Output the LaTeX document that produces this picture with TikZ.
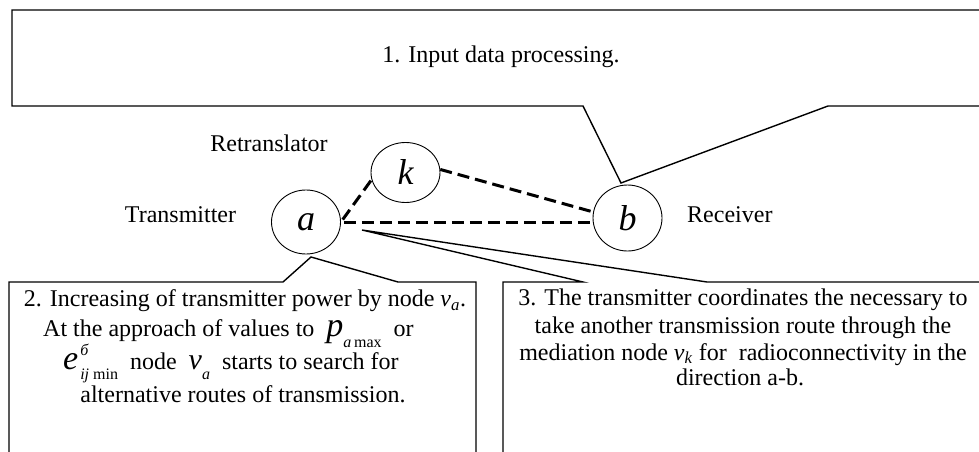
\documentclass[tikz,border=0pt]{standalone}
\usepackage{fontspec}
\setmainfont{Liberation Serif}
\usetikzlibrary{shapes.geometric}
\newcommand\ZZbig{\fontsize{34}{34}\selectfont}
\newcommand\ZZmid{\fontsize{30}{30}\selectfont}
\newcommand\ZZsub{\fontsize{16}{16}\selectfont}
\begin{document}
\begin{tikzpicture}[x=1pt,y=-1pt,
  lbl/.style={font=\fontsize{24}{27}\selectfont, inner sep=0pt},
  vert/.style={draw, line width=0.9pt, ellipse, minimum width=69pt, minimum height=64pt,
               inner sep=0pt, font=\fontsize{36}{36}\selectfont\itshape},
  link/.style={line width=3pt, dash pattern=on 12pt off 6pt},
  callout/.style={draw, line width=1.4pt, line join=miter}]
\useasboundingbox (0,0) rectangle (979,452);
\clip (0,0) rectangle (979,452);
% callout pointer tips
\coordinate (tip1) at (621,183);
\coordinate (tip2) at (311,257);
\coordinate (tip3) at (362,230);
% callouts
\draw[callout] (12,10) -- (995,10) -- (995,106) -- (828,106) -- (tip1) -- (583,106) -- (12,106) -- cycle;
\draw[callout] (9,282) -- (283,282) -- (tip2) -- (398,282) -- (476,282) -- (476,470) -- (9,470) -- cycle;
\draw[callout] (503,282) -- (583,282) -- (tip3) -- (707,282) -- (995,282) -- (995,470) -- (503,470) -- cycle;
% vertices
\node[vert] (a) at (306,222) {a};
\node[vert, minimum height=60pt] (k) at (405.5,172.5) {k};
\node[vert, minimum height=66pt] (b) at (627.5,218) {b};
% links
\draw[link, shorten <=3pt] (a.east) -- (a.east -| b.west);
\draw[link, shorten <=3pt] (a.east) -- (k.192);
\draw[link] (k.5) -- (b.170);
% labels
\node[lbl, anchor=base] (tx) at (180.5,222) {Transmitter};
\node[lbl, anchor=base] (rt) at (269,151) {Retranslator};
\node[lbl, anchor=base west] (rx) at (687,222) {Receiver};
\node[lbl, anchor=base] (t1) at (501,63) {1. Input data processing.};
% box 2
\node[lbl, anchor=base] (t2a) at (245,306.7) {2. Increasing of transmitter power by node \textit{v}\textsubscript{\textit{a}}.};
\node[lbl, anchor=base west] (t2b) at (43,336.7) {At the approach of values to\ \ {\ZZbig\itshape p}\raisebox{-11pt}{\ZZsub\itshape a\,\upshape max}\ \ or};
\node[lbl, anchor=base west] (t2c) at (63,369) {{\ZZbig\itshape e}\kern2pt\makebox[0pt][l]{\raisebox{14pt}{\ZZsub\itshape б}}\raisebox{-10pt}{\ZZsub\itshape ij\upshape\ min}\ \ node\ \ {\ZZmid\itshape v}\raisebox{-10pt}{\ZZsub\itshape a}\ \ starts to search for};
\node[lbl, anchor=base] (t2d) at (243,402) {alternative routes of transmission.};
% box 3
\node[lbl, anchor=base] (t3a) at (743,305.7) {3. The transmitter coordinates the necessary to};
\node[lbl, anchor=base] (t3b) at (743,333) {take another transmission route through the};
\node[lbl, anchor=base] (t3c) at (743,360) {mediation node \textit{v}\textsubscript{\textit{k}} for\ \ radioconnectivity in the};
\node[lbl, anchor=base] (t3d) at (740,385) {direction a-b.};
\end{tikzpicture}
\end{document}
